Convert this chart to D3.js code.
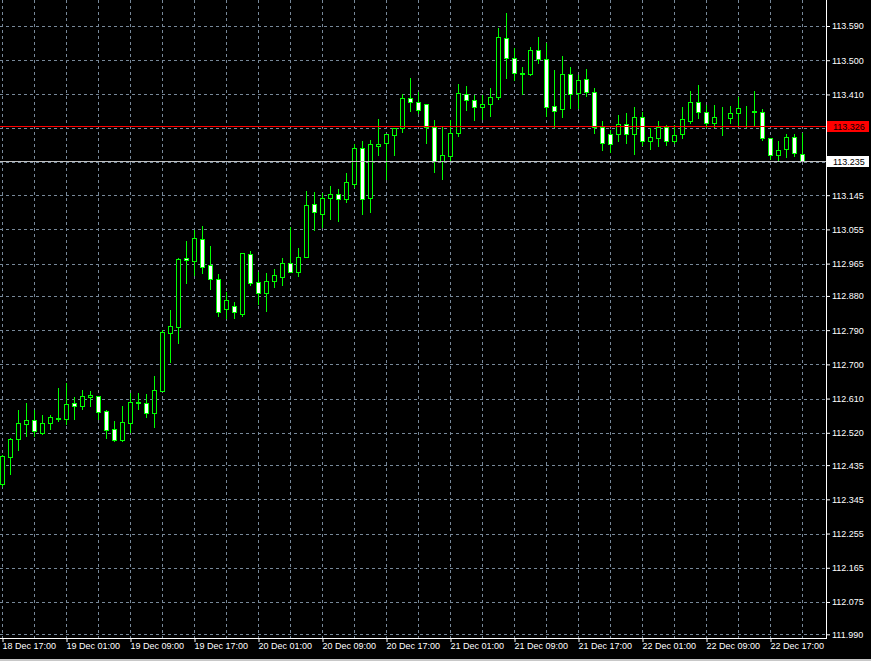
<!DOCTYPE html>
<html><head><meta charset="utf-8">
<script src="https://cdn.jsdelivr.net/npm/d3@7"></script>
<style>html,body{margin:0;padding:0;background:#000;overflow:hidden}svg{display:block}</style>
</head><body><svg id="c" width="871" height="661"></svg>
<script>
// ---- data (USDJPY H1, 18 Dec 17:00 .. 22 Dec 21:00) ----
const firstBar = Date.UTC(2017, 11, 18, 17);
const opens = [112.385,112.456,112.503,112.544,112.553,112.519,112.545,112.557,112.557,112.598,
112.590,112.613,112.616,112.577,112.529,112.501,112.547,112.598,112.598,112.571,
112.631,112.782,112.799,112.979,112.973,113.029,112.961,112.924,112.845,112.854,
112.833,112.990,112.916,112.889,112.918,112.931,112.966,112.944,112.983,113.121,
113.096,113.137,113.147,113.134,113.175,113.268,113.137,113.275,113.281,113.304,
113.321,113.400,113.389,113.386,113.324,113.235,113.249,113.308,113.410,113.395,
113.376,113.384,113.402,113.558,113.505,113.466,113.463,113.527,113.502,113.380,
113.372,113.464,113.413,113.450,113.417,113.325,113.306,113.305,113.331,113.305,
113.350,113.288,113.295,113.325,113.288,113.305,113.341,113.391,113.363,113.334,
113.347,113.347,113.362,113.369,113.365,113.363,113.296,113.251,113.266,113.297,
113.253];
const highs = [112.462,112.506,112.580,112.598,112.580,112.567,112.567,112.637,112.650,112.613,
112.633,112.629,112.617,112.580,112.551,112.591,112.624,112.626,112.622,112.669,
112.790,112.843,112.979,113.025,113.053,113.064,113.011,112.938,112.891,112.864,
112.993,112.998,112.944,112.941,112.951,112.980,113.061,113.006,113.156,113.153,
113.150,113.169,113.161,113.203,113.280,113.288,113.290,113.345,113.306,113.322,
113.411,113.452,113.417,113.386,113.343,113.327,113.343,113.437,113.432,113.408,
113.408,113.426,113.584,113.623,113.531,113.483,113.534,113.562,113.545,113.474,
113.511,113.483,113.461,113.477,113.426,113.340,113.316,113.356,113.360,113.376,
113.365,113.323,113.340,113.330,113.330,113.376,113.419,113.435,113.382,113.382,
113.376,113.380,113.402,113.380,113.420,113.372,113.296,113.288,113.306,113.306,
113.309];
const lows = [112.380,112.412,112.475,112.512,112.512,112.517,112.530,112.552,112.542,112.557,
112.582,112.591,112.556,112.507,112.498,112.498,112.523,112.582,112.562,112.535,
112.631,112.707,112.757,112.915,112.935,112.940,112.897,112.828,112.823,112.823,
112.828,112.909,112.858,112.841,112.904,112.909,112.943,112.932,112.982,113.053,
113.062,113.083,113.078,113.128,113.167,113.096,113.102,113.251,113.187,113.251,
113.312,113.367,113.360,113.283,113.207,113.187,113.238,113.301,113.369,113.343,
113.345,113.353,113.398,113.454,113.448,113.411,113.462,113.492,113.353,113.325,
113.351,113.374,113.375,113.406,113.309,113.264,113.259,113.288,113.283,113.253,
113.277,113.266,113.274,113.277,113.281,113.296,113.334,113.349,113.324,113.324,
113.303,113.334,113.327,113.325,113.330,113.290,113.239,113.236,113.245,113.248,
113.235];
const closes = [112.459,112.504,112.545,112.553,112.524,112.545,112.561,112.559,112.595,112.590,
112.616,112.620,112.574,112.528,112.501,112.548,112.601,112.601,112.571,112.633,
112.784,112.801,112.977,112.974,113.032,112.957,112.924,112.839,112.869,112.839,
112.992,112.915,112.889,112.919,112.934,112.966,112.944,112.982,113.119,113.100,
113.138,113.147,113.134,113.179,113.268,113.134,113.279,113.279,113.306,113.322,
113.400,113.389,113.369,113.325,113.235,113.250,113.308,113.413,113.395,113.376,
113.384,113.402,113.560,113.505,113.466,113.463,113.527,113.502,113.378,113.367,
113.464,113.412,113.448,113.417,113.325,113.281,113.279,113.331,113.305,113.351,
113.288,113.297,113.325,113.288,113.303,113.345,113.391,113.365,113.334,113.350,
113.348,113.360,113.374,113.370,113.366,113.296,113.251,113.264,113.297,113.255,
113.235];
// price-axis tick labels (grid rows); two rows are hidden under the price boxes
const yTickLabels = ["113.590","113.500","113.410","113.145","113.055","112.965","112.880",
"112.790","112.700","112.610","112.520","112.435","112.345","112.255","112.165","112.075","111.990"];
const hiddenGridValues = [113.322, 113.233];
const askPrice = 113.326;
const bidPrice = 113.235;

// ---- drawing ----
const svg = d3.select("#c");
const plotRight = 826, plotBottom = 638;
const y = d3.scaleLinear().domain([111.990, 113.590]).range([634.3, 26]);
const times = opens.map((_, i) => new Date(firstBar + i * 3600e3));
const x = d3.scaleUtc().domain([times[0], times[times.length - 1]]).range([2, 802]);
const px = v => Math.round(v) + 0.5;

svg.append("rect").attr("width", 871).attr("height", 661).attr("fill", "#000");
// window edge at the bottom
svg.append("rect").attr("x", 0).attr("y", 659).attr("width", 871).attr("height", 2).attr("fill", "#c8c8c8");

const gridColor = "#778899";
const grid = svg.append("g").attr("stroke", gridColor).attr("stroke-dasharray", "3,3").attr("shape-rendering", "crispEdges");
const vGrid = times.filter((_, i) => i % 4 === 0);
grid.selectAll("line.v").data(vGrid).join("line").attr("class", "v")
  .attr("x1", d => px(x(d))).attr("x2", d => px(x(d))).attr("y1", 0).attr("y2", plotBottom);
const gridVals = yTickLabels.map(Number).concat(hiddenGridValues);
grid.selectAll("line.h").data(gridVals).join("line").attr("class", "h")
  .attr("x1", 0).attr("x2", plotRight).attr("y1", d => px(y(d))).attr("y2", d => px(y(d)));

// candles
const bars = opens.map((o, i) => ({t: times[i], o, h: highs[i], l: lows[i], c: closes[i]}));
const cg = svg.append("g").attr("shape-rendering", "crispEdges");
cg.selectAll("line").data(bars).join("line")
  .attr("x1", d => px(x(d.t))).attr("x2", d => px(x(d.t)))
  .attr("y1", d => Math.round(y(d.h))).attr("y2", d => Math.round(y(d.l)) + 1)
  .attr("stroke", "#00ff00");
cg.selectAll("rect").data(bars).join("rect")
  .attr("x", d => Math.round(x(d.t)) - 1.5).attr("width", 4)
  .attr("y", d => px(y(Math.max(d.o, d.c))))
  .attr("height", d => Math.max(0, Math.round(y(Math.min(d.o, d.c))) - Math.round(y(Math.max(d.o, d.c)))))
  .attr("fill", d => d.c >= d.o ? "#000" : "#fff")
  .attr("stroke", "#00ff00");

// price lines
svg.append("line").attr("x1", 0).attr("x2", plotRight).attr("y1", px(y(bidPrice))).attr("y2", px(y(bidPrice)))
  .attr("stroke", "#c0c0c0").attr("shape-rendering", "crispEdges");
svg.append("line").attr("x1", 0).attr("x2", plotRight).attr("y1", px(y(askPrice))).attr("y2", px(y(askPrice)))
  .attr("stroke", "#ff0000").attr("shape-rendering", "crispEdges");

// frame
svg.append("line").attr("x1", plotRight + 0.5).attr("x2", plotRight + 0.5).attr("y1", 0).attr("y2", plotBottom + 1).attr("stroke", "#fff");
svg.append("line").attr("x1", 0).attr("x2", plotRight + 1).attr("y1", plotBottom + 0.5).attr("y2", plotBottom + 0.5).attr("stroke", "#fff");

const font = "'Liberation Sans', Arial, sans-serif";
// y axis
const yAxis = d3.axisRight(y).tickValues(yTickLabels.map(Number)).tickFormat(d3.format(".3f")).tickSize(4).tickSizeOuter(0);
const ya = svg.append("g").attr("transform", `translate(${plotRight},0)`).call(yAxis);
ya.select(".domain").remove();
ya.selectAll(".tick line").attr("stroke", "#fff");
ya.selectAll(".tick text").attr("fill", "#fff").attr("x", 6).style("font", `9px ${font}`);

// x axis
const xTicks = times.filter((_, i) => i % 8 === 0);
const xAxis = d3.axisBottom(x).tickValues(xTicks).tickFormat(d3.utcFormat("%-d %b %H:%M")).tickSize(4).tickSizeOuter(0);
const xa = svg.append("g").attr("transform", `translate(0,${plotBottom})`).call(xAxis);
xa.select(".domain").remove();
xa.selectAll(".tick line").attr("stroke", "#fff").attr("transform", "translate(0.5,0)");
xa.selectAll(".tick text").attr("fill", "#fff").attr("text-anchor", "start").attr("x", 0).attr("y", 5).style("font", `9px ${font}`);

// price boxes
function priceBox(v, bg, fg) {
  const yy = Math.round(y(v));
  const g = svg.append("g");
  g.append("rect").attr("x", 827).attr("y", yy - 5).attr("width", 42).attr("height", 11).attr("fill", bg);
  g.append("text").attr("x", 833).attr("y", yy + 4).attr("fill", fg).style("font", `9px ${font}`).text(d3.format(".3f")(v));
}
priceBox(askPrice, "#ff0000", "#000");
priceBox(bidPrice, "#ffffff", "#000");
</script></body></html>
